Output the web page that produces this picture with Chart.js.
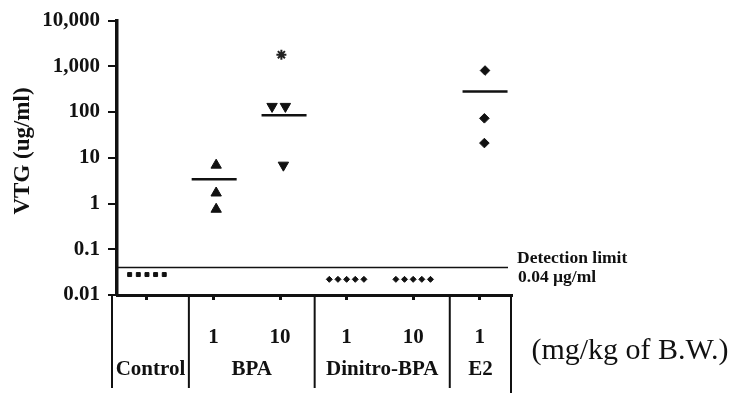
<!DOCTYPE html>
<html>
<head>
<meta charset="utf-8">
<script src="https://cdn.jsdelivr.net/npm/chart.js"></script>
<style>
  html, body { margin: 0; padding: 0; background: #fff; }
  #wrap { width: 734px; height: 393px; }
</style>
</head>
<body>
<div id="wrap"><canvas id="chart"></canvas></div>
<script>
// dose columns on the x axis (positions 1..6)
const doseLabels = ['', '1', '10', '1', '10', '1'];
const groupNames = ['Control', 'BPA', 'Dinitro-BPA', 'E2'];
const groupEdges = [0.475, 1.63, 3.52, 5.55, 6.47];

const yTicks = [0.01, 0.1, 1, 10, 100, 1000, 10000];
const yTickLabels = ['0.01', '0.1', '1', '10', '100', '1,000', '10,000'];

const detectionLimit = 0.04;

// VTG per fish (ug/ml); jitter = horizontal offset inside the dose column
const spreadJitter = [-0.26, -0.13, 0, 0.13, 0.26];
const controlVTG = [0.028, 0.028, 0.028, 0.028, 0.028];
const bpa1VTG = [6.9, 1.7, 0.75];
const bpa1Jitter = [0.04, 0.04, 0.04];
const bpa10VTG = [133, 133, 6.9];
const bpa10Jitter = [-0.12, 0.08, 0.05];
const dinitro1VTG = [0.022, 0.022, 0.022, 0.022, 0.022];
const dinitro10VTG = [0.022, 0.022, 0.022, 0.022, 0.022];
const e2VTG = [810, 73, 21];
const e2Jitter = [0.08, 0.07, 0.07];

// group means (short horizontal bars): BPA 1, BPA 10, E2
const meanVTG = [3.4, 85, 282];
const meanX = [2.01, 3.06, 6.08];

// significance mark over BPA 10
const starX = [3.02];
const starY = [1800];

function pts(col, values, jitter) {
  return values.map((v, i) => ({ x: col + (jitter ? jitter[i] : 0), y: v }));
}

function marks(data, style, radius, extra) {
  return Object.assign({
    data: data,
    pointStyle: style,
    pointRadius: radius,
    backgroundColor: '#111',
    borderColor: '#111',
    borderWidth: 1,
    showLine: false
  }, extra || {});
}

const tablePlugin = {
  id: 'tablePlugin',
  afterDraw(chart) {
    const ctx = chart.ctx;
    const x = chart.scales.x;
    const y = chart.scales.y;
    const area = chart.chartArea;
    ctx.save();
    ctx.fillStyle = '#111';
    ctx.strokeStyle = '#111';

    // detection limit line
    const yd = y.getPixelForValue(detectionLimit);
    ctx.lineWidth = 1.6;
    ctx.beginPath();
    ctx.moveTo(area.left, yd);
    ctx.lineTo(area.right - 3, yd);
    ctx.stroke();

    ctx.font = 'bold 17.5px "Liberation Serif"';
    ctx.textAlign = 'left';
    ctx.textBaseline = 'middle';
    ctx.fillText('Detection limit', 517, 258);
    ctx.fillText('0.04 \u00b5g/ml', 518, 277);

    // group dividers under the axis
    ctx.lineWidth = 2;
    groupEdges.forEach((e, i) => {
      const px = x.getPixelForValue(e);
      ctx.beginPath();
      ctx.moveTo(px, area.bottom);
      ctx.lineTo(px, i === groupEdges.length - 1 ? 393 : 388);
      ctx.stroke();
    });

    // group names
    ctx.font = 'bold 21px "Liberation Serif"';
    ctx.textAlign = 'center';
    groupNames.forEach((name, i) => {
      const px = (x.getPixelForValue(groupEdges[i]) + x.getPixelForValue(groupEdges[i + 1])) / 2;
      ctx.fillText(name, px, 370);
    });

    // units
    ctx.font = '30px "Liberation Serif"';
    ctx.fillText('(mg/kg of B.W.)', 630, 351);

    // y title
    ctx.font = 'bold 23px "Liberation Serif"';
    ctx.translate(23, 151);
    ctx.rotate(-Math.PI / 2);
    ctx.fillText('VTG (ug/ml)', 0, 0);
    ctx.restore();
  }
};

new Chart(document.getElementById('chart'), {
  type: 'scatter',
  data: {
    datasets: [
      marks(pts(1, controlVTG, spreadJitter), 'rect', 2.8),
      marks(pts(2, bpa1VTG, bpa1Jitter), 'triangle', 6),
      marks(pts(3, bpa10VTG, bpa10Jitter), 'triangle', 6, { rotation: 180 }),
      marks(pts(4, dinitro1VTG, spreadJitter), 'rectRot', 3),
      marks(pts(5, dinitro10VTG, spreadJitter), 'rectRot', 3),
      marks(pts(6, e2VTG, e2Jitter), 'rectRot', 4.8),
      marks(meanX.map((v, i) => ({ x: v, y: meanVTG[i] })), 'line', 22.5, { borderWidth: 2.5 }),
      marks(starX.map((v, i) => ({ x: v, y: starY[i] })), 'star', 5, { borderWidth: 2, borderColor: '#222' })
    ]
  },
  options: {
    responsive: true,
    maintainAspectRatio: false,
    animation: false,
    layout: { autoPadding: false, padding: { top: 20, right: 223, left: 0, bottom: 0 } },
    plugins: { legend: { display: false }, tooltip: { enabled: false } },
    scales: {
      x: {
        type: 'linear',
        min: 0.55,
        max: 6.47,
        afterBuildTicks: (scale) => { scale.ticks = doseLabels.map((_, i) => ({ value: i + 1 })); },
        afterFit: (scale) => { scale.height = 98; },
        grid: { drawOnChartArea: false, tickLength: 5, lineWidth: 3, color: '#111' },
        border: { color: '#111', width: 3 },
        ticks: {
          callback: (v, i) => doseLabels[i],
          color: '#111',
          padding: 25,
          maxRotation: 0,
          autoSkip: false,
          font: { family: 'Liberation Serif', weight: 'bold', size: 21 }
        }
      },
      y: {
        type: 'logarithmic',
        min: 0.01,
        max: 10000,
        afterBuildTicks: (scale) => { scale.ticks = yTicks.map(v => ({ value: v })); },
        afterFit: (scale) => { scale.width = 117; },
        grid: { drawOnChartArea: false, tickLength: 9, lineWidth: 2, color: '#111' },
        border: { color: '#111', width: 3.5 },
        ticks: {
          callback: (v, i) => yTickLabels[i],
          color: '#111',
          padding: 8,
          font: { family: 'Liberation Serif', weight: 'bold', size: 21 }
        }
      }
    }
  },
  plugins: [tablePlugin]
});
</script>
</body>
</html>
